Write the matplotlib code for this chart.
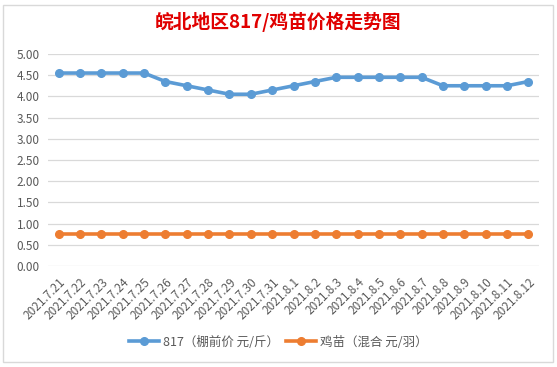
import matplotlib
matplotlib.use('Agg')
import matplotlib.pyplot as plt
from matplotlib.patches import Rectangle

plt.rcParams['font.family'] = ['Noto Sans CJK SC', 'DejaVu Sans']

# 数据
dates = ['2021.7.21', '2021.7.22', '2021.7.23', '2021.7.24', '2021.7.25', '2021.7.26',
         '2021.7.27', '2021.7.28', '2021.7.29', '2021.7.30', '2021.7.31', '2021.8.1',
         '2021.8.2', '2021.8.3', '2021.8.4', '2021.8.5', '2021.8.6', '2021.8.7',
         '2021.8.8', '2021.8.9', '2021.8.10', '2021.8.11', '2021.8.12']
price_817 = [4.55, 4.55, 4.55, 4.55, 4.55, 4.35, 4.25, 4.15, 4.05, 4.05, 4.15, 4.25,
             4.35, 4.45, 4.45, 4.45, 4.45, 4.45, 4.25, 4.25, 4.25, 4.25, 4.35]
price_chick = [0.75] * 23
yticks = [0, 0.5, 1, 1.5, 2, 2.5, 3, 3.5, 4, 4.5, 5]

gray = '#595959'
fig = plt.figure(figsize=(5.57, 3.67), dpi=100)
ax = fig.add_axes([0.0862, 0.275, 0.8815, 0.578])

x = range(len(dates))
ax.plot(x, price_817, color='#5B9BD5', lw=2.6, marker='o', ms=5.5,
        label='817（棚前价 元/斤）', zorder=3)
ax.plot(x, price_chick, color='#ED7D31', lw=2.6, marker='o', ms=5.5,
        label='鸡苗（混合 元/羽）', zorder=3)

ax.set_xlim(-0.5, len(dates) - 0.5)
ax.set_ylim(0, 5)
ax.set_yticks(yticks)
ax.set_yticklabels(['%.2f' % v for v in yticks], color=gray, fontsize=8.5)
ax.set_xticks(list(x))
ax.set_xticklabels(dates, rotation=45, ha='right', rotation_mode='anchor',
                   color=gray, fontsize=8.5)
ax.tick_params(axis='x', length=0, pad=7)
ax.tick_params(axis='y', length=0, pad=6)
ax.grid(axis='y', color='#D9D9D9', lw=0.9)
for s in ax.spines.values():
    s.set_visible(False)

fig.text(0.5, 0.94, '皖北地区817/鸡苗价格走势图', ha='center', va='center',
         color='#E00000', fontsize=13.5, fontweight='bold')

fig.legend(loc='center', bbox_to_anchor=(0.5, 0.068), ncol=2, frameon=False,
           fontsize=9, labelcolor=gray, handlelength=2.4, handletextpad=0.3,
           columnspacing=0.6)

# 图表边框
fig.patches.append(Rectangle((3 / 557, 5 / 367), 550 / 557, 357 / 367,
                             transform=fig.transFigure, fill=False,
                             edgecolor='#D9D9D9', lw=1))

fig.savefig('out.png', dpi=100)
